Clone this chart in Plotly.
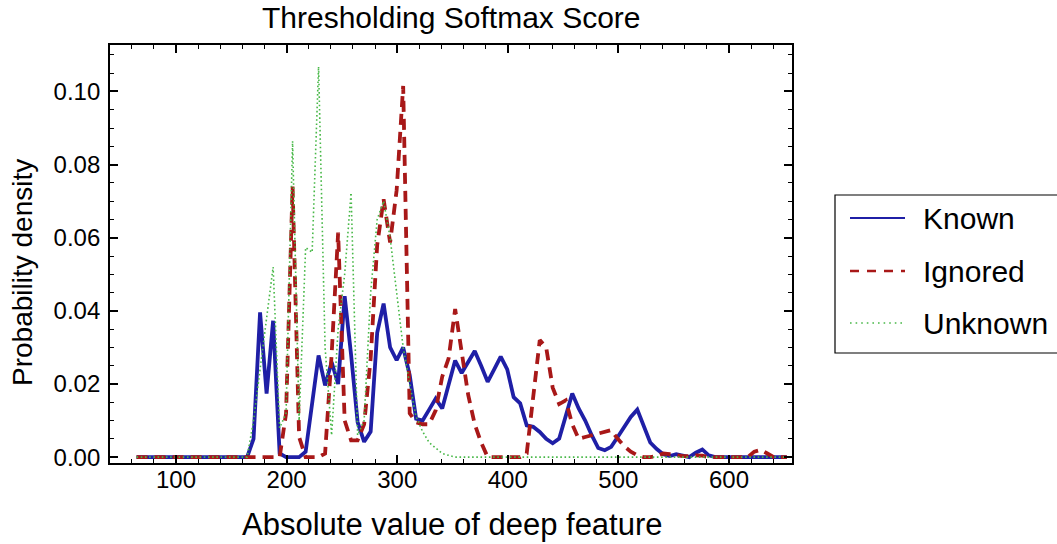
import plotly.graph_objects as go

# Bin positions of the density estimates (absolute value of deep feature)
x_vals = [64.3, 70.2, 76.1, 81.9, 87.8, 93.7, 99.6, 105.5, 111.3, 117.2,
          123.1, 129.0, 134.9, 140.7, 146.6, 152.5, 158.4, 164.3, 170.1, 176.0,
          181.9, 187.8, 193.7, 199.5, 205.4, 211.3, 217.2, 223.1, 228.9, 234.8,
          240.7, 246.6, 252.5, 258.3, 264.2, 270.1, 276.0, 281.9, 287.7, 293.6,
          299.5, 305.4, 311.3, 317.1, 323.0, 328.9, 334.8, 340.7, 346.5, 352.4,
          358.3, 364.2, 370.1, 375.9, 381.8, 387.7, 393.6, 399.5, 405.3, 411.2,
          417.1, 423.0, 428.9, 434.7, 440.6, 446.5, 452.4, 458.3, 464.1, 470.0,
          475.9, 481.8, 487.7, 493.5, 499.4, 505.3, 511.2, 517.1, 522.9, 528.8,
          534.7, 540.6, 546.5, 552.3, 558.2, 564.1, 570.0, 575.9, 581.7, 587.6,
          593.5, 599.4, 605.3, 611.1, 617.0, 622.9, 628.8, 634.7, 640.5, 646.4,
          652.3]

known = [0, 0, 0, 0, 0, 0, 0, 0, 0, 0,
         0, 0, 0, 0, 0, 0, 0, 0, 0.005, 0.0396,
         0.0174, 0.0373, 0.001, 0, 0, 0, 0.0015, 0.014, 0.0278, 0.0196,
         0.026, 0.020, 0.044, 0.028, 0.0096, 0.0042, 0.007, 0.034, 0.042, 0.030,
         0.0265, 0.030, 0.0224, 0.0105, 0.010, 0.013, 0.016, 0.0133, 0.020, 0.0264,
         0.023, 0.026, 0.029, 0.025, 0.0206, 0.024, 0.0275, 0.024, 0.0164, 0.0147,
         0.0087, 0.0083, 0.0069, 0.005, 0.0038, 0.0051, 0.011, 0.0174, 0.0133, 0.010,
         0.006, 0.0025, 0.0019, 0.0028, 0.0055, 0.0083, 0.011, 0.013, 0.0085, 0.004,
         0.0022, 0.0008, 0.0003, 0.0008, 0.0004, 0, 0.0012, 0.0021, 0.0005, 0,
         0, 0, 0, 0, 0, 0, 0, 0, 0, 0,
         0]

ignored = [0, 0, 0, 0, 0, 0, 0, 0, 0, 0,
           0, 0, 0, 0, 0, 0, 0, 0, 0, 0,
           0, 0, 0, 0.012, 0.074, 0.0055, 0, 0, 0, 0.001,
           0.028, 0.0614, 0.010, 0.0046, 0.0046, 0.009, 0.027, 0.058, 0.0705, 0.0587,
           0.073, 0.1015, 0.012, 0.0095, 0.009, 0.009, 0.0128, 0.022, 0.027, 0.0405,
           0.028, 0.017, 0.009, 0.004, 0, 0, 0, 0, 0, 0,
           0.001, 0.0155, 0.032, 0.030, 0.019, 0.0145, 0.0155, 0.009, 0.005, 0.0055,
           0.006, 0.0065, 0.007, 0.0074, 0.005, 0.003, 0.0015, 0.0005, 0, 0,
           0.0003, 0.001, 0.0008, 0.0005, 0.0003, 0.0003, 0.0005, 0.0004, 0, 0,
           0, 0, 0, 0, 0, 0.0015, 0.002, 0.001, 0, 0,
           0]

unknown = [0, 0, 0, 0, 0, 0, 0, 0, 0, 0,
           0, 0, 0, 0, 0, 0, 0, 0, 0.010, 0.024,
           0.038, 0.052, 0.008, 0.012, 0.0864, 0.010, 0.0573, 0.056, 0.1068, 0.030,
           0.006, 0.035, 0.050, 0.0723, 0.006, 0.010, 0.045, 0.065, 0.070, 0.060,
           0.045, 0.030, 0.020, 0.011, 0.007, 0.004, 0.0025, 0.001, 0.0005, 0,
           0, 0, 0, 0, 0, 0, 0, 0, 0, 0,
           0, 0, 0, 0, 0, 0, 0, 0, 0, 0,
           0, 0, 0, 0, 0, 0, 0, 0, 0, 0,
           0, 0, 0, 0, 0, 0, 0, 0, 0, 0,
           0, 0, 0, 0, 0, 0, 0, 0, 0, 0,
           0]

series_names = ["Known", "Ignored", "Unknown"]
colors = ["#1f1fa6", "#a81818", "#48b848"]
widths = [3.8, 3.8, 1.6]
dashes = ["solid", "11px,7px", "1.6px,2.6px"]
legend_widths = [2.2, 2.6, 1.6]
legend_dashes = ["solid", "9px,8px", "1.6px,4px"]

FONT = "Liberation Sans, Arial, sans-serif"
W, H = 1057, 544
ML, MR, MT, MB = 110, 265, 45, 81
PW, PH = W - ML - MR, H - MT - MB


def px_x(p):
    return (p - ML) / PW


def px_y(p):
    return (H - MB - p) / PH


fig = go.Figure()
for name, ys, c, w, d in zip(series_names, [known, ignored, unknown], colors, widths, dashes):
    fig.add_trace(go.Scatter(x=x_vals, y=ys, mode="lines", name=name, showlegend=False,
                             line=dict(color=c, width=w, dash=d)))

axis_common = dict(showline=True, linecolor="black", linewidth=1.8, mirror="allticks",
                   ticks="inside", ticklen=8, tickwidth=1.5, tickcolor="black",
                   showgrid=False, zeroline=False,
                   tickfont=dict(family=FONT, size=24, color="black"))

fig.update_layout(
    width=W, height=H,
    margin=dict(l=ML, r=MR, t=MT, b=MB),
    paper_bgcolor="white", plot_bgcolor="white",
    xaxis=dict(range=[40.3, 657.0], tick0=0, dtick=100, ticklabelstandoff=-6,
               minor=dict(dtick=20, tick0=0, ticks="inside", ticklen=4, tickwidth=1.2,
                          tickcolor="black", showgrid=False),
               **axis_common),
    yaxis=dict(range=[-0.0016, 0.1127], tick0=0, dtick=0.02, tickformat=".2f",
               ticklabelstandoff=3,
               minor=dict(dtick=0.005, tick0=0, ticks="inside", ticklen=4, tickwidth=1.2,
                          tickcolor="black", showgrid=False),
               **axis_common),
)

annotations = [
    dict(text="Thresholding Softmax Score", x=px_x(451), y=px_y(17), xref="paper", yref="paper",
         xanchor="center", yanchor="middle", showarrow=False,
         font=dict(family=FONT, size=30, color="black")),
    dict(text="Absolute value of deep feature", x=px_x(452), y=px_y(524), xref="paper", yref="paper",
         xanchor="center", yanchor="middle", showarrow=False,
         font=dict(family=FONT, size=31, color="black")),
    dict(text="Probability density", x=px_x(22), y=px_y(273), xref="paper", yref="paper",
         xanchor="center", yanchor="middle", showarrow=False, textangle=-90,
         font=dict(family=FONT, size=28, color="black")),
]

# Legend: framed box with line samples and labels
shapes = [dict(type="rect", xref="paper", yref="paper", x0=px_x(835), x1=px_x(1062),
               y0=px_y(353), y1=px_y(195), line=dict(color="black", width=1.2),
               fillcolor="white", layer="above")]
legend_rows = [218, 271, 323]
for name, c, w, d, row in zip(series_names, colors, legend_widths, legend_dashes, legend_rows):
    shapes.append(dict(type="line", xref="paper", yref="paper", x0=px_x(850), x1=px_x(905),
                       y0=px_y(row), y1=px_y(row), line=dict(color=c, width=w, dash=d),
                       layer="above"))
    annotations.append(dict(text=name, x=px_x(921), y=px_y(row), xref="paper", yref="paper",
                            xanchor="left", yanchor="middle", showarrow=False,
                            font=dict(family=FONT, size=30, color="black")))

fig.update_layout(shapes=shapes, annotations=annotations)
fig.write_html("out.html")
